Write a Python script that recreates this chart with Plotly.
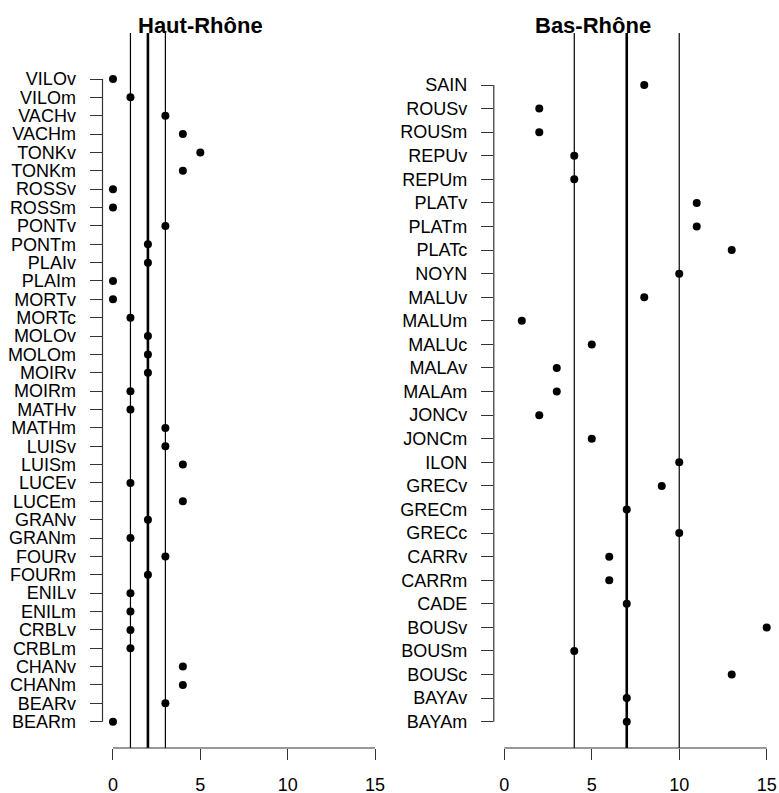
import numpy as np
import plotly.graph_objects as go

# ---- data (bottom to top) ----
haut_sites = ["BEARm", "BEARv", "CHANm", "CHANv", "CRBLm", "CRBLv", "ENILm", "ENILv",
              "FOURm", "FOURv", "GRANm", "GRANv", "LUCEm", "LUCEv", "LUISm", "LUISv",
              "MATHm", "MATHv", "MOIRm", "MOIRv", "MOLOm", "MOLOv", "MORTc", "MORTv",
              "PLAIm", "PLAIv", "PONTm", "PONTv", "ROSSm", "ROSSv", "TONKm", "TONKv",
              "VACHm", "VACHv", "VILOm", "VILOv"]
haut_values = [0, 3, 4, 4, 1, 1, 1, 1,
               2, 3, 1, 2, 4, 1, 4, 3,
               3, 1, 1, 2, 2, 2, 1, 0,
               0, 2, 2, 3, 0, 0, 4, 5,
               4, 3, 1, 0]

bas_sites = ["BAYAm", "BAYAv", "BOUSc", "BOUSm", "BOUSv", "CADE", "CARRm", "CARRv",
             "GRECc", "GRECm", "GRECv", "ILON", "JONCm", "JONCv", "MALAm", "MALAv",
             "MALUc", "MALUm", "MALUv", "NOYN", "PLATc", "PLATm", "PLATv", "REPUm",
             "REPUv", "ROUSm", "ROUSv", "SAIN"]
bas_values = [7, 7, 13, 4, 15, 7, 6, 6,
              10, 7, 9, 10, 5, 2, 3, 3,
              5, 1, 8, 10, 13, 11, 11, 4,
              4, 2, 2, 8]

x_ticks = [0, 5, 10, 15]
titles = ["Haut-Rhône", "Bas-Rhône"]

# ---- layout constants (pixels) ----
W, H = 779, 793
FONT = "Liberation Sans, Arial, sans-serif"
AX = "#333333"


def px(v):
    return v / W


def py(v):
    return 1 - v / H


fig = go.Figure()

panels = [
    dict(sites=haut_sites, vals=haut_values, xd=(102.5, 385.5), yr=(-1.432, 37.505),
         xa="x", ya="y", title_x=200.5),
    dict(sites=bas_sites, vals=bas_values, xd=(493.8, 777.2), yr=(-1.115, 29.205),
         xa="x2", ya="y2", title_x=593),
]

y_dom = [py(748), py(33)]

for i, p in enumerate(panels):
    idx = list(range(len(p["sites"])))
    fig.add_trace(go.Scatter(
        x=p["vals"], y=idx, mode="markers", xaxis=p["xa"], yaxis=p["ya"],
        marker=dict(color="black", size=8), showlegend=False, hoverinfo="x+text",
        text=p["sites"], cliponaxis=False))

    q1, med, q3 = np.percentile(p["vals"], [25, 50, 75])
    xref, yref = p["xa"], p["ya"]
    for v, w in [(q1, 1.2), (q3, 1.2), (med, 2.6)]:
        fig.add_shape(type="line", xref=xref, yref=f"{yref} domain",
                      x0=v, x1=v, y0=0, y1=1, line=dict(color="black", width=w))
    # R-style axis lines spanning only ticks / categories
    fig.add_shape(type="line", xref=xref, yref=f"{yref} domain",
                  x0=x_ticks[0], x1=x_ticks[-1], y0=0, y1=0,
                  line=dict(color=AX, width=1.2))
    fig.add_shape(type="line", xref=f"{xref} domain", yref=yref,
                  x0=0, x1=0, y0=idx[0], y1=idx[-1],
                  line=dict(color=AX, width=1.2))

    fig.add_annotation(text=f"<b>{titles[i]}</b>", xref="paper", yref="paper",
                       x=px(p["title_x"]), y=py(25), xanchor="center",
                       yanchor="middle", showarrow=False,
                       font=dict(family=FONT, size=22, color="black"))

    xkey = "xaxis" if i == 0 else "xaxis2"
    ykey = "yaxis" if i == 0 else "yaxis2"
    fig.update_layout(**{
        xkey: dict(domain=[px(p["xd"][0]), px(p["xd"][1])], range=[-0.6, 15.6],
                   tickvals=x_ticks, ticks="outside", ticklen=11, tickwidth=1.2,
                   tickcolor=AX, showgrid=False, zeroline=False, showline=False,
                   anchor=p["ya"], ticklabelstandoff=9, automargin=False,
                   tickfont=dict(family=FONT, size=18, color="black")),
        ykey: dict(domain=y_dom, range=list(p["yr"]), tickvals=idx, ticktext=p["sites"],
                   ticks="outside", ticklen=12, tickwidth=1.2, tickcolor=AX,
                   showgrid=False, zeroline=False, showline=False,
                   anchor=p["xa"], ticklabelstandoff=10, automargin=False,
                   tickfont=dict(family=FONT, size=18, color="black")),
    })

fig.update_layout(width=W, height=H, margin=dict(l=0, r=0, t=0, b=0, autoexpand=False),
                  plot_bgcolor="white", paper_bgcolor="white", showlegend=False)

fig.write_html("out.html", config={"displayModeBar": False},
               post_script="document.body.style.margin='0';"
                           "document.body.style.overflow='hidden';")
